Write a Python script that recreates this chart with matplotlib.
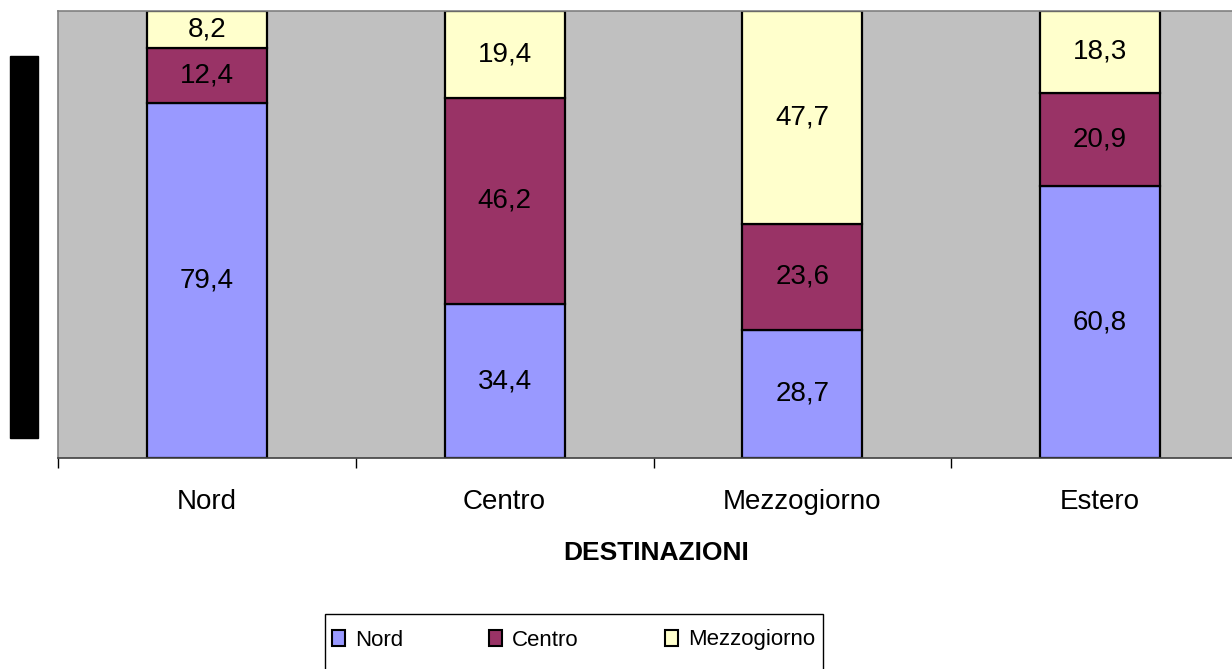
import matplotlib
matplotlib.use("Agg")
import matplotlib.pyplot as plt
from matplotlib.patches import Rectangle
import numpy as np

plt.rcParams['font.family'] = ['Liberation Sans', 'DejaVu Sans']

# destinazioni (asse x) e quote per origine
destinazioni = ['Nord', 'Centro', 'Mezzogiorno', 'Estero']
nord = [79.4, 34.4, 28.7, 60.8]
centro = [12.4, 46.2, 23.6, 20.9]
mezzogiorno = [8.2, 19.4, 47.7, 18.3]

serie = [('Nord', nord, '#9999FF'),
         ('Centro', centro, '#993366'),
         ('Mezzogiorno', mezzogiorno, '#FFFFCC')]

W, H = 1232, 669
fig = plt.figure(figsize=(W / 100, H / 100), dpi=100)
ax = fig.add_axes([58 / W, 1 - 458 / H, 1191 / W, 447 / H])
ax.set_facecolor('#C0C0C0')

x = np.arange(len(destinazioni))
base = np.zeros(len(destinazioni))
for nome, valori, colore in serie:
    bars = ax.bar(x, valori, width=0.403, bottom=base, color=colore,
                  edgecolor='black', linewidth=1.6, label=nome)
    ax.bar_label(bars, labels=[('%.1f' % v).replace('.', ',') for v in valori],
                 label_type='center', fontsize=20)
    base += np.array(valori)

ax.set_xlim(-0.5, 3.5)
ax.set_ylim(0, 100)
ax.set_yticks([])
ax.set_xticks(np.arange(-0.5, 4.0, 1.0))
ax.set_xticklabels([])
ax.set_xticks(x, minor=True)
ax.set_xticklabels(destinazioni, minor=True, fontsize=20)
ax.tick_params(axis='x', which='major', length=7, color='black', width=1)
ax.tick_params(axis='x', which='minor', length=0, pad=22)
for s in ax.spines.values():
    s.set_color('#808080')
    s.set_linewidth(1.2)
ax.spines['bottom'].set_color('#404040')

fig.text(656 / W, 1 - 553 / H, 'DESTINAZIONI', ha='center', va='center',
         fontsize=19, fontweight='bold')

# etichetta asse y (resa come blocco nero)
fig.patches.append(Rectangle((10 / W, 1 - 438 / H), 28 / W, 382 / H,
                             transform=fig.transFigure, color='black'))

# cornice della legenda (esce dal bordo inferiore)
fig.patches.append(Rectangle((325 / W, 1 - 690 / H), 498 / W, 76 / H,
                             transform=fig.transFigure, facecolor='white',
                             edgecolor='black', linewidth=1, zorder=0))

leg = fig.legend(loc='center left', ncol=3,
                 bbox_to_anchor=(332 / W, 1 - 640 / H),
                 fontsize=16, frameon=False,
                 handlelength=0.59, handleheight=0.72, handletextpad=0.45,
                 columnspacing=3.87, borderpad=0, borderaxespad=0)
for h in leg.legend_handles:
    h.set_edgecolor('black')
    h.set_linewidth(1.5)

fig.savefig('out.png', dpi=100)
